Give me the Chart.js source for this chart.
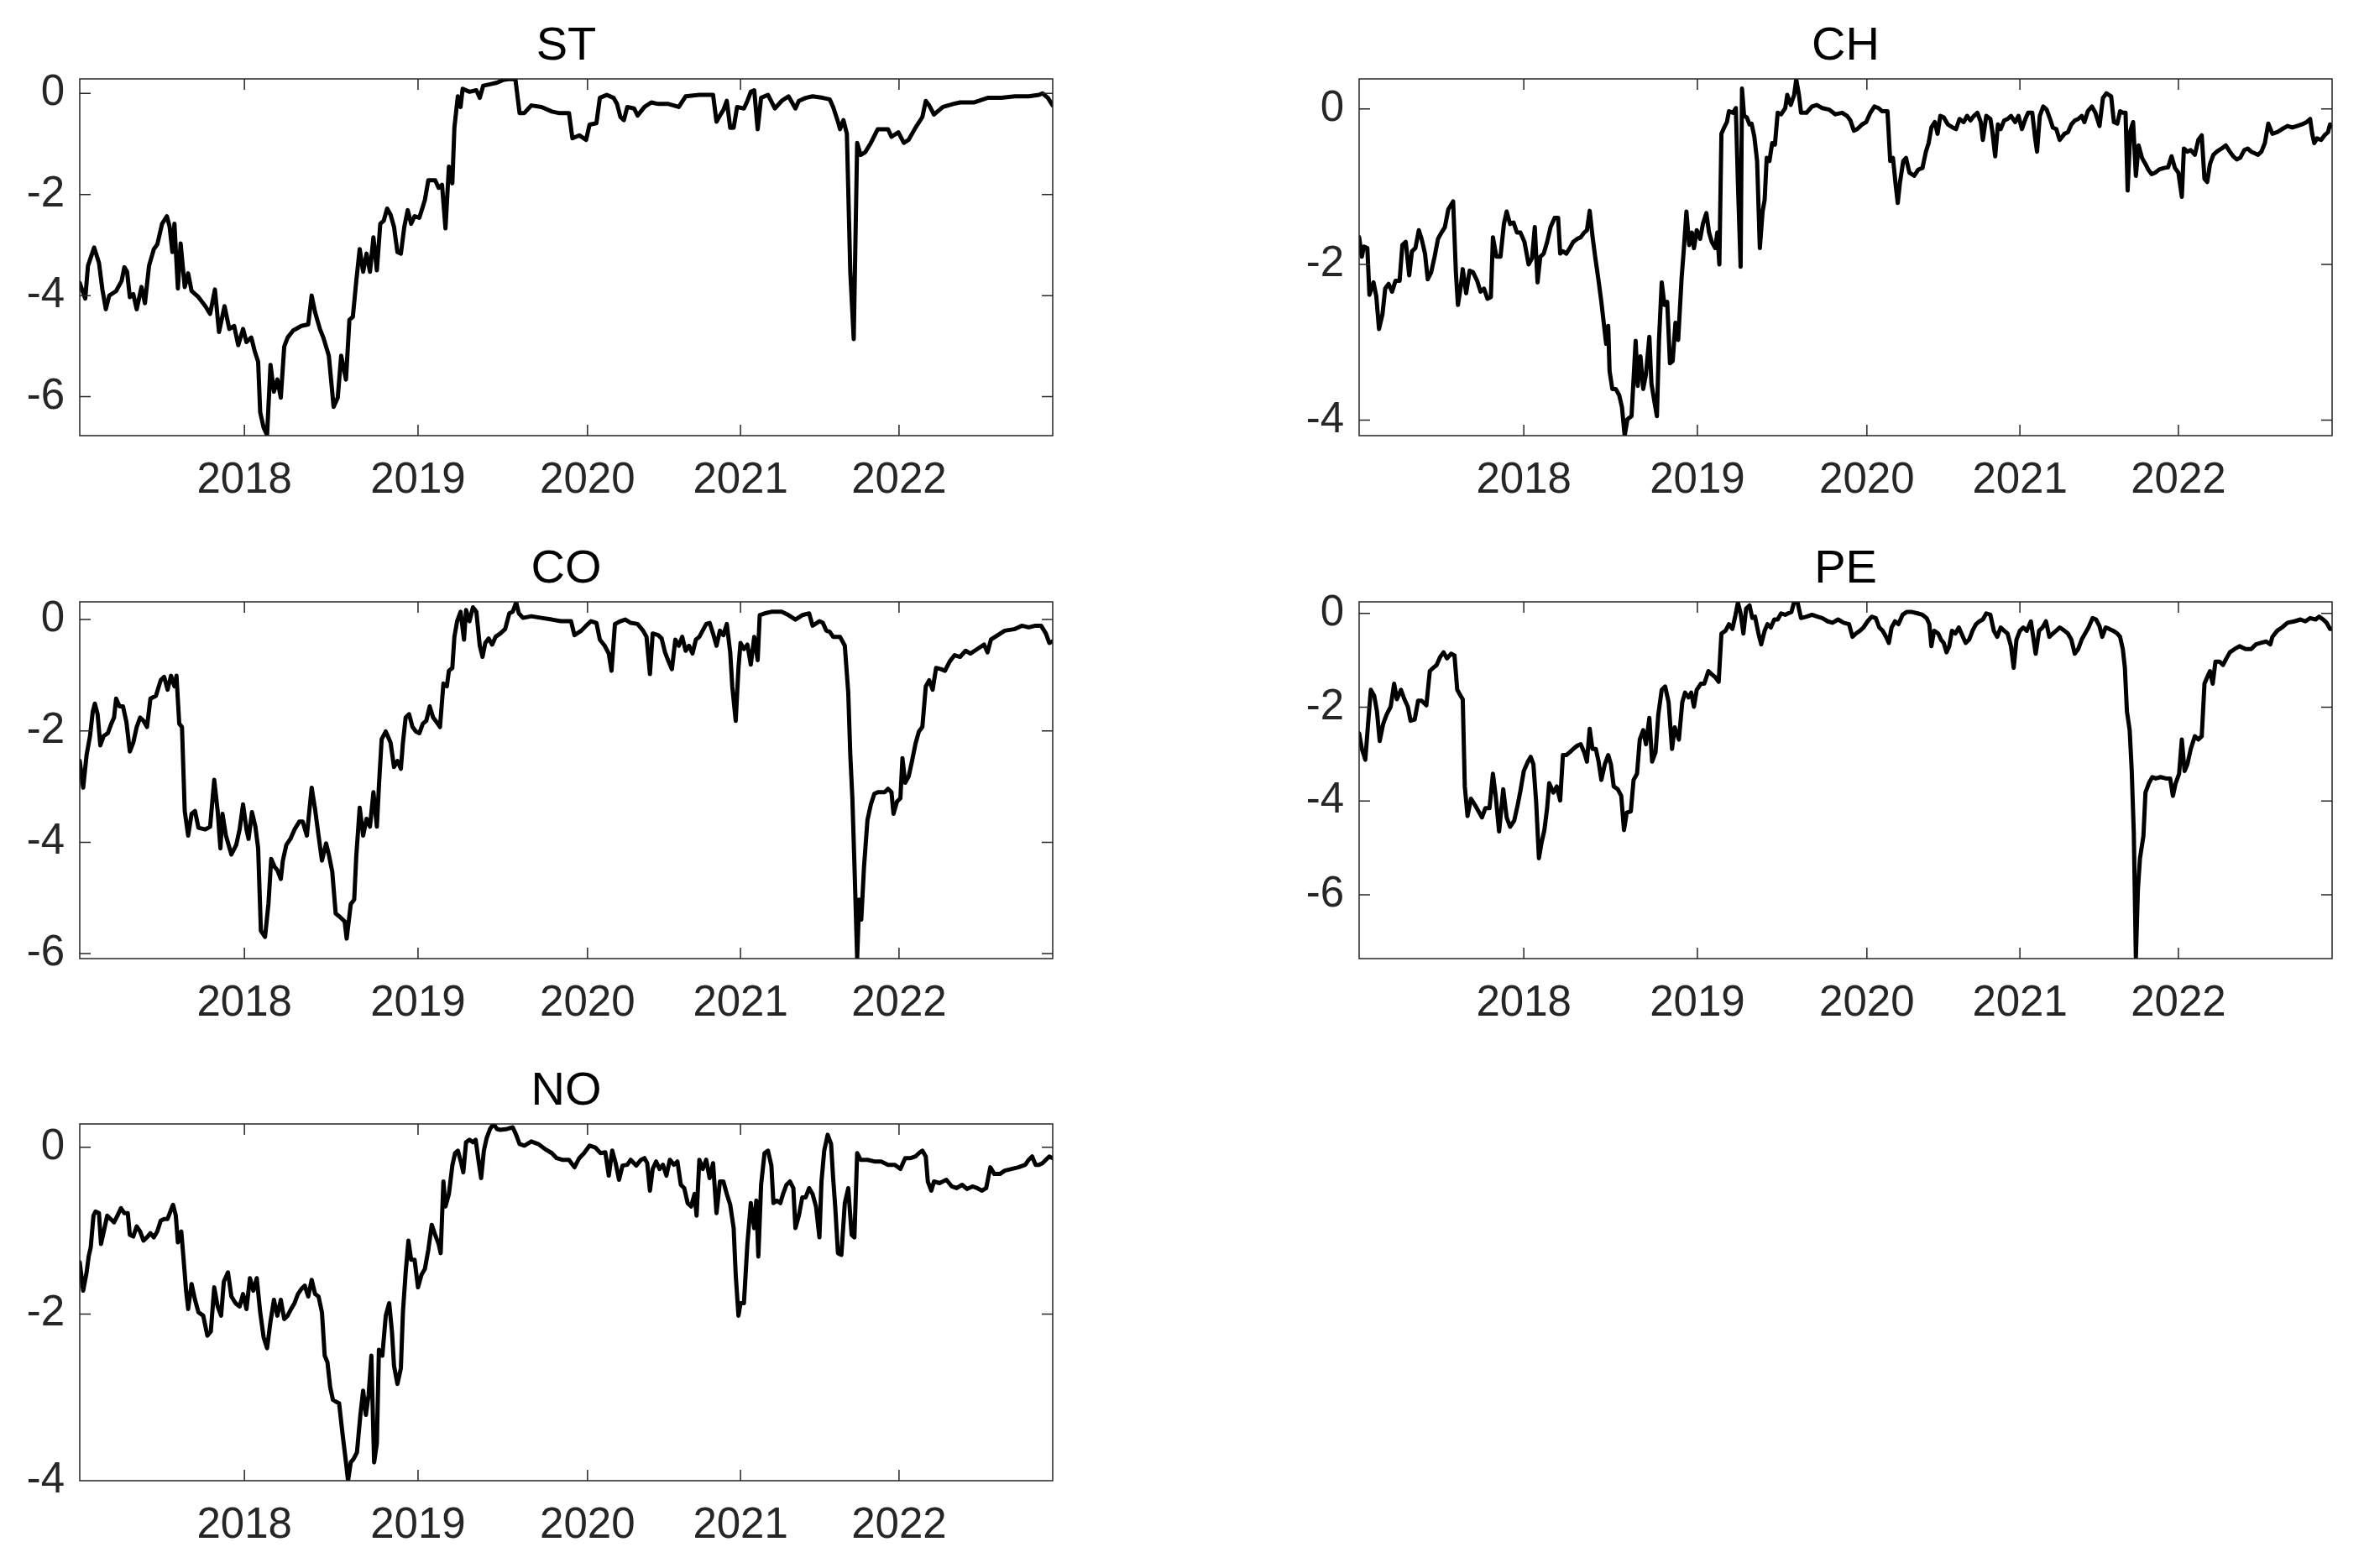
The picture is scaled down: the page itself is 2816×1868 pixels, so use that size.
<!DOCTYPE html>
<html>
<head>
<meta charset="utf-8">
<script src="https://cdn.jsdelivr.net/npm/chart.js@4.4.1/dist/chart.umd.min.js"></script>
<style>
  html, body { margin: 0; padding: 0; background: #fff; }
  #page { position: relative; width: 2816px; height: 1868px; overflow: hidden; background: #fff; }
  #page canvas { position: absolute; }
</style>
</head>
<body>
<div id="page"></div>
<script>
// x axis is the observation (trading day) index, years are marked where they start
const yearObs = [240, 493, 740, 963, 1194];
const yearLabels = ['2018', '2019', '2020', '2021', '2022'];
const obsMax = 1418;

const panelNames = ['ST', 'CH', 'CO', 'PE', 'NO'];
const yMin = [-6.77, -4.2, -6.09, -7.36, -4.0];
const yMax = [0.285, 0.385, 0.318, 0.246, 0.28];
const yTickSets = [[-6, -4, -2, 0], [-4, -2, 0], [-6, -4, -2, 0], [-6, -4, -2, 0], [-4, -2, 0]];

const stObs = [0,8,12,21,28,33,38,43,53,61, 65,69,73,78,83,90,95,101,108,113, 120,127,131,135,138,143,147,153,158,163,
  173,183,190,197,203,211,218,225,231,238, 243,250,255,260,263,268,273,278,283,288, 293,298,303,311,323,333,338,343,350,355,
  363,370,376,381,388,393,398,403,408,413, 418,423,428,433,438,443,448,453,458,463, 468,473,478,483,488,495,503,508,518,523,
  528,533,538,543,546,551,555,558,568,578, 583,588,598,608,618,628,635,641,648,658, 673,688,698,713,718,728,738,743,753,758,
  768,778,783,788,793,798,808,813,823,833, 843,858,873,883,903,923,928,933,938,943, 948,953,958,968,973,978,983,988,993,998,
  1003,1013,1023,1033,1043,1048,1058,1068,1083,1093, 1098,1105,1108,1113,1118,1123,1128,1133,1138,1145,
  1153,1163,1178,1183,1193,1201,1208,1218,1228,1233, 1238,1245,1258,1273,1283,1303,1323,1343,1363,1383, 1398,1403,1411,1418];
const stVals = [-3.75,-4.06,-3.41,-3.05,-3.35,-3.88,-4.27,-4.00,-3.91,-3.71, -3.44,-3.53,-4.03,-3.97,-4.27,-3.83,-4.15,-3.41,-3.08,-2.99,
  -2.58,-2.43,-2.64,-3.14,-2.58,-3.86,-2.97,-3.83,-3.56,-3.91, -4.03,-4.21,-4.36,-3.88,-4.72,-4.21,-4.66,-4.60,-4.98,-4.66,
  -4.92,-4.83,-5.10,-5.31,-6.31,-6.61,-6.76,-5.37,-5.90,-5.66, -6.02,-5.01,-4.83,-4.69,-4.60,-4.57,-4.00,-4.33,-4.66,-4.83,
  -5.19,-6.20,-6.02,-5.19,-5.66,-4.48,-4.42,-3.71,-3.08,-3.53, -3.17,-3.53,-2.85,-3.50,-2.58,-2.52,-2.28,-2.40,-2.64,-3.14,
  -3.17,-2.64,-2.31,-2.58,-2.43,-2.46,-2.11,-1.72,-1.72,-1.87, -1.81,-2.67,-1.45,-1.78,-0.68,-0.06,-0.27,0.09,0.03,0.06,
  -0.09,0.15,0.18,0.21,0.27,0.285,0.27,-0.39,-0.39,-0.24, -0.27,-0.36,-0.39,-0.39,-0.89,-0.83,-0.92,-0.62,-0.59,-0.09,
  -0.03,-0.09,-0.21,-0.47,-0.53,-0.27,-0.30,-0.44,-0.27,-0.18, -0.21,-0.21,-0.27,-0.06,-0.03,-0.03,-0.56,-0.44,-0.33,-0.15,
  -0.68,-0.68,-0.27,-0.30,-0.15,0.03,0.06,-0.71,-0.09,-0.06, -0.03,-0.30,-0.15,-0.06,-0.30,-0.15,-0.09,-0.06,-0.09,-0.12,
  -0.27,-0.56,-0.71,-0.53,-0.80,-3.53,-4.86,-0.98,-1.22,-1.16, -0.98,-0.71,-0.71,-0.86,-0.77,-0.98,-0.92,-0.68,-0.47,-0.15,
  -0.24,-0.42,-0.27,-0.21,-0.18,-0.18,-0.09,-0.09,-0.06,-0.06, -0.03,0,-0.09,-0.24];

const chObs = [0,4,7,12,15,21,25,29,34,38, 43,48,53,59,63,68,73,77,82,87, 91,96,100,105,110,115,120,125,130,137,
  141,144,148,151,156,161,166,172,177,182, 187,192,195,200,206,211,215,220,225,230, 235,241,247,252,256,260,264,269,274,279,
  285,290,293,297,302,307,312,318,323,328, 332,336,340,344,349,353,357,360,363,365, 369,374,379,383,387,391,397,403,406,410,
  414,418,423,426,431,434,437,441,445,449, 453,457,461,465,470,473,477,481,485,488, 492,497,501,506,510,514,519,522,525,528,
  532,536,539,545,549,552,556,558,561,565, 569,572,576,580,584,588,591,594,598,602, 606,610,615,621,624,629,634,637,641,644,
  652,660,667,675,685,694,704,711,716,721, 726,733,739,745,751,757,762,770,774,778, 782,785,788,793,797,802,809,815,821,826,
  830,834,839,843,847,852,858,865,870,875, 881,886,891,896,901,906,909,914,920,923, 927,931,935,940,945,950,956,961,966,971,
  975,981,985,988,992,997,1002,1007,1011,1016, 1021,1028,1033,1038,1043,1048,1053,1057,1062,1068,
  1073,1079,1084,1089,1096,1100,1105,1109,1113,1117, 1120,1124,1128,1132,1136,1141,1146,1150,1155,1160,
  1166,1173,1179,1184,1189,1194,1199,1202,1207,1212, 1218,1223,1228,1232,1236,1240,1245,1250,1257,1263,
  1269,1274,1279,1284,1290,1295,1300,1305,1310,1315, 1320,1325,1331,1338,1345,1353,1360,1367,1374,1381,
  1386,1389,1392,1396,1402,1407,1412,1415,1418];
const chVals = [-1.65,-1.90,-1.77,-1.79,-2.39,-2.23,-2.41,-2.83,-2.64,-2.31, -2.25,-2.35,-2.21,-2.21,-1.75,-1.71,-2.14,-1.83,-1.79,-1.56,
  -1.67,-1.86,-2.19,-2.10,-1.90,-1.67,-1.59,-1.52,-1.29,-1.19, -2.10,-2.52,-2.29,-2.06,-2.37,-2.08,-2.10,-2.21,-2.35,-2.31,
  -2.44,-2.42,-1.65,-1.90,-1.90,-1.48,-1.32,-1.48,-1.46,-1.59, -1.59,-1.71,-2.00,-1.92,-1.52,-2.23,-1.90,-1.86,-1.71,-1.52,
  -1.40,-1.40,-1.86,-1.83,-1.86,-1.79,-1.71,-1.67,-1.65,-1.59, -1.56,-1.31,-1.63,-1.90,-2.21,-2.48,-2.79,-3.02,-2.79,-3.37,
  -3.60,-3.60,-3.68,-3.83,-4.20,-3.99,-3.95,-2.98,-3.56,-3.18, -3.60,-3.41,-2.93,-3.53,-3.80,-3.95,-2.98,-2.23,-2.52,-2.48,
  -3.27,-3.24,-2.75,-2.97,-2.17,-1.83,-1.32,-1.75,-1.59,-1.79, -1.56,-1.67,-1.48,-1.34,-1.59,-1.71,-1.79,-1.59,-2.00,-0.32,
  -0.24,-0.17,-0.03,-0.05,0.01,-0.94,-2.03,0.26,-0.09,-0.11, -0.20,-0.19,-0.36,-0.67,-1.79,-1.32,-1.17,-0.63,-0.67,-0.44,
  -0.46,-0.05,-0.07,0.01,0.18,0.05,0.18,0.38,0.18,-0.05, -0.05,0.03,0.05,0.01,-0.01,-0.07,-0.05,-0.09,-0.15,-0.28,
  -0.26,-0.20,-0.17,-0.05,0.03,0.01,-0.03,-0.03,-0.67,-0.63, -0.98,-1.21,-0.96,-0.67,-0.63,-0.82,-0.86,-0.78,-0.76,-0.55,
  -0.44,-0.24,-0.17,-0.32,-0.09,-0.11,-0.20,-0.24,-0.26,-0.13, -0.17,-0.09,-0.15,-0.09,-0.05,-0.17,-0.40,-0.09,-0.13,-0.30,
  -0.61,-0.20,-0.26,-0.15,-0.13,-0.09,-0.17,-0.09,-0.26,-0.13, -0.05,-0.05,-0.36,-0.55,-0.09,0.03,-0.01,-0.13,-0.24,-0.26,
  -0.40,-0.32,-0.30,-0.20,-0.15,-0.13,-0.09,-0.17,-0.03,0.03, -0.05,-0.22,0.14,0.20,0.16,-0.17,-0.19,-0.03,-0.05,-0.05,
  -1.05,-0.28,-0.17,-0.86,-0.47,-0.63,-0.71,-0.78,-0.84,-0.82, -0.78,-0.76,-0.75,-0.61,-0.76,-0.82,-1.13,-0.51,-0.55,-0.53,
  -0.59,-0.40,-0.34,-0.90,-0.94,-0.71,-0.59,-0.55,-0.51,-0.47, -0.55,-0.61,-0.65,-0.63,-0.53,-0.51,-0.55,-0.57,-0.59,-0.55,
  -0.44,-0.19,-0.32,-0.30,-0.26,-0.22,-0.24,-0.22,-0.20,-0.17, -0.13,-0.32,-0.44,-0.38,-0.40,-0.34,-0.30,-0.20,-0.22];

const coObs = [0,5,10,15,19,22,26,30,35,41, 46,50,53,58,63,68,73,78,83,88, 93,98,103,111,118,123,128,133,138,141,
  145,149,153,158,163,168,173,183,190,196, 201,205,208,213,221,228,233,238,243,246, 251,256,260,264,270,275,279,284,288,293,
  296,301,307,313,320,325,331,338,343,348, 353,359,363,368,373,379,386,389,395,400, 403,408,413,418,423,428,433,436,440,446,
  453,458,463,468,471,475,480,485,490,495, 500,505,510,515,520,525,530,535,538,543, 546,550,555,560,563,568,573,578,583,587,
  591,596,601,606,613,620,626,631,636,640, 646,658,673,688,701,716,721,731,738,745, 753,758,765,771,775,780,788,795,803,813,
  821,826,831,835,843,848,853,858,863,868, 873,878,883,888,893,898,903,913,918,923, 928,933,938,943,948,951,956,960,963,968,
  973,978,983,988,991,998,1008,1023,1033,1043, 1053,1063,1068,1078,1083,1088,1093,1098,1108,1115,
  1120,1123,1126,1129,1133,1136,1139,1143,1148,1153, 1158,1163,1173,1178,1183,1186,1191,1196,1199,1203,
  1208,1213,1218,1223,1228,1233,1238,1243,1248,1255, 1261,1268,1275,1283,1291,1298,1308,1318,1323,1328,
  1338,1348,1363,1373,1383,1393,1401,1408,1413,1418];
const coVals = [-2.54,-3.02,-2.43,-2.09,-1.65,-1.51,-1.70,-2.26,-2.09,-2.04, -1.87,-1.76,-1.42,-1.56,-1.56,-1.84,-2.37,-2.21,-1.93,-1.76,
  -1.82,-1.93,-1.42,-1.37,-1.09,-1.03,-1.26,-1.01,-1.20,-1.01, -1.87,-1.93,-3.44,-3.88,-3.49,-3.44,-3.74,-3.77,-3.72,-2.88,
  -3.44,-4.11,-3.49,-3.88,-4.22,-4.05,-3.77,-3.32,-3.77,-3.94, -3.46,-3.72,-4.11,-5.59,-5.70,-5.11,-4.30,-4.44,-4.50,-4.66,
  -4.33,-4.05,-3.94,-3.77,-3.63,-3.63,-3.88,-3.02,-3.41,-3.88, -4.33,-4.02,-4.22,-4.53,-5.28,-5.34,-5.42,-5.73,-5.11,-5.03,
  -4.25,-3.38,-3.88,-3.58,-3.72,-3.10,-3.72,-2.99,-2.15,-2.01, -2.21,-2.65,-2.54,-2.68,-2.21,-1.76,-1.70,-1.93,-2.01,-2.04,
  -1.87,-1.82,-1.56,-1.76,-1.84,-1.93,-1.15,-1.20,-0.92,-0.87, -0.31,-0.03,0.14,-0.36,0.17,-0.03,0.22,0.14,-0.47,-0.67,
  -0.42,-0.34,-0.45,-0.31,-0.25,-0.17,0.11,0.14,0.31,0.11, 0.03,0.06,0.03,0.00,-0.03,-0.03,-0.28,-0.20,-0.11,-0.03,
  -0.06,-0.36,-0.47,-0.61,-0.92,-0.08,-0.03,0.00,-0.06,-0.08, -0.20,-0.31,-0.98,-0.25,-0.28,-0.34,-0.59,-0.75,-0.89,-0.36,
  -0.47,-0.31,-0.56,-0.47,-0.61,-0.36,-0.31,-0.08,-0.06,-0.25, -0.47,-0.20,-0.28,-0.08,-0.59,-1.20,-1.82,-0.87,-0.42,-0.53,
  -0.45,-0.81,-0.31,-0.73,0.08,0.11,0.14,0.14,0.08,0.00, 0.08,0.11,-0.11,-0.03,-0.06,-0.20,-0.22,-0.31,-0.31,-0.47,
  -1.31,-2.43,-3.21,-4.39,-6.09,-5.03,-5.39,-4.44,-3.60,-3.32, -3.13,-3.10,-3.10,-3.04,-3.10,-3.49,-3.27,-3.21,-2.49,-2.93,
  -2.82,-2.54,-2.23,-2.01,-1.93,-1.20,-1.09,-1.26,-0.87,-0.89, -0.92,-0.75,-0.64,-0.67,-0.56,-0.61,-0.53,-0.45,-0.59,-0.36,
  -0.28,-0.20,-0.17,-0.11,-0.14,-0.11,-0.11,-0.25,-0.42,-0.39];

const peObs = [0,4,9,13,17,22,26,30,35,40, 46,51,55,61,66,71,75,81,86,91, 98,103,108,113,118,123,128,134,139,143,
  148,151,154,158,163,169,174,179,184,190, 195,199,204,210,215,220,226,231,235,240, 246,250,254,258,262,266,270,274,277,283,
  288,293,297,302,307,312,318,323,328,332, 336,340,345,349,353,358,363,367,371,377, 382,386,390,396,400,405,409,414,418,423,
  427,432,436,441,446,451,456,460,466,471, 475,480,484,488,492,498,503,509,514,519, 524,528,534,539,544,548,552,556,560,564,
  569,573,577,582,586,591,595,600,605,610, 615,621,625,630,634,639,644,652,660,668, 675,683,690,698,706,714,719,724,730,735,
  741,747,753,758,763,768,772,776,781,786, 792,798,806,814,821,827,831,834,838,844, 848,852,856,860,864,869,874,880,884,889,
  894,899,904,909,914,920,925,930,935,940, 945,950,954,958,963,968,973,979,983,986, 991,996,1001,1006,1011,1016,1021,1028,1033,1038,
  1043,1048,1053,1058,1063,1069,1074,1079,1083,1088, 1093,1099,1105,1109,1113,1116,1119,1123,1126,1129,
  1132,1135,1138,1143,1146,1151,1156,1161,1168,1176, 1182,1186,1190,1195,1199,1203,1207,1212,1218,1223,
  1228,1232,1236,1240,1244,1248,1254,1259,1264,1269, 1276,1283,1292,1300,1307,1314,1322,1328,1331,1338,
  1345,1353,1363,1372,1379,1386,1394,1399,1405,1410, 1415,1418];
const peVals = [-2.56,-2.89,-3.12,-2.36,-1.63,-1.76,-2.09,-2.72,-2.36,-2.16, -1.99,-1.50,-1.83,-1.63,-1.83,-1.99,-2.29,-2.26,-1.86,-1.86,
  -1.96,-1.23,-1.16,-1.10,-0.93,-0.83,-0.96,-0.86,-0.90,-1.63, -1.76,-1.83,-3.69,-4.32,-3.95,-4.09,-4.22,-4.35,-4.15,-4.15,
  -3.42,-3.89,-4.65,-3.75,-4.35,-4.55,-4.42,-4.09,-3.79,-3.36, -3.16,-3.06,-3.22,-4.02,-5.22,-4.88,-4.62,-4.15,-3.62,-3.82,
  -3.69,-3.99,-3.02,-3.02,-2.96,-2.89,-2.82,-2.79,-2.96,-3.16, -2.46,-2.89,-2.89,-3.16,-3.55,-3.22,-3.02,-3.22,-3.69,-3.75,
  -3.89,-4.62,-4.25,-4.22,-3.55,-3.42,-2.69,-2.49,-2.79,-2.23, -3.16,-2.96,-2.16,-1.63,-1.56,-1.89,-2.89,-2.43,-2.69,-1.89,
  -1.69,-1.79,-1.69,-1.99,-1.63,-1.50,-1.50,-1.23,-1.30,-1.36, -1.46,-0.43,-0.37,-0.23,-0.33,-0.07,0.23,0.00,-0.43,0.10,
  0.17,-0.10,-0.07,-0.43,-0.66,-0.37,-0.23,-0.30,-0.13,-0.13, 0.00,-0.03,0.00,0.03,0.245,0.23,-0.10,-0.07,-0.03,-0.07,
  -0.10,-0.17,-0.20,-0.13,-0.20,-0.23,-0.50,-0.43,-0.37,-0.30, -0.17,-0.07,-0.10,-0.30,-0.37,-0.50,-0.63,-0.30,-0.17,-0.23,
  -0.03,0.03,0.03,0.00,-0.03,-0.10,-0.23,-0.70,-0.37,-0.43, -0.56,-0.63,-0.83,-0.70,-0.37,-0.43,-0.30,-0.50,-0.63,-0.56,
  -0.37,-0.23,-0.17,-0.13,0.00,-0.03,-0.37,-0.50,-0.30,-0.37, -0.43,-0.70,-1.16,-0.56,-0.37,-0.30,-0.37,-0.17,-0.56,-0.86,
  -0.37,-0.30,-0.17,-0.50,-0.43,-0.37,-0.30,-0.37,-0.43,-0.56, -0.86,-0.76,-0.56,-0.43,-0.30,-0.10,-0.13,-0.27,-0.50,-0.30,
  -0.33,-0.37,-0.43,-0.50,-0.76,-1.16,-2.09,-2.49,-3.36,-4.68, -7.34,-5.88,-5.22,-4.75,-3.82,-3.62,-3.49,-3.52,-3.49,-3.52,
  -3.52,-3.89,-3.62,-3.42,-2.69,-3.36,-3.22,-2.89,-2.62,-2.69, -2.62,-1.50,-1.36,-1.23,-1.50,-1.03,-1.03,-1.10,-0.96,-0.83,
  -0.76,-0.70,-0.76,-0.76,-0.66,-0.63,-0.60,-0.66,-0.50,-0.37, -0.30,-0.20,-0.17,-0.13,-0.17,-0.10,-0.13,-0.07,-0.13,-0.20,
  -0.33,-0.33];

const noObs = [0,5,10,13,16,20,23,28,31,35, 40,45,50,55,60,65,70,73,78,83, 88,93,98,103,108,113,118,123,128,133,
  136,140,143,148,151,155,158,163,168,173, 180,186,191,196,201,206,210,216,221,227, 233,238,243,248,253,258,263,268,273,278,
  283,288,293,298,303,308,313,318,323,328, 333,338,343,348,353,357,361,365,369,373, 378,383,388,391,395,399,404,409,413,417,
  421,425,429,433,436,441,446,451,455,458, 463,468,471,475,479,483,488,493,498,503, 508,513,518,523,526,530,533,538,543,547,
  551,556,559,563,568,573,577,581,585,589, 593,598,603,608,613,623,631,636,641,648, 658,668,678,688,695,703,713,721,728,735,
  743,751,759,766,771,776,781,786,791,798, 803,811,818,823,827,831,835,840,845,850, 855,860,866,871,876,881,886,891,896,899,
  903,908,913,918,923,928,933,938,943,948, 953,956,960,963,968,973,978,983,986,989, 993,998,1003,1008,1011,1016,1021,1025,1030,1035,
  1040,1043,1048,1053,1058,1063,1068,1073,1078,1081, 1085,1090,1095,1098,1101,1105,1110,1115,1120,1125,
  1129,1133,1138,1148,1158,1168,1178,1188,1196,1203, 1211,1218,1223,1228,1233,1236,1241,1245,1253,1263,
  1271,1278,1286,1293,1301,1308,1315,1321,1327,1333, 1341,1348,1358,1368,1378,1383,1388,1393,1398,1403, 1408,1413,1418];
const noVals = [-1.38,-1.72,-1.50,-1.31,-1.20,-0.82,-0.77,-0.79,-1.16,-1.01, -0.82,-0.86,-0.90,-0.82,-0.73,-0.79,-0.79,-1.05,-1.07,-0.95,
  -1.01,-1.12,-1.08,-1.03,-1.08,-1.01,-0.88,-0.86,-0.86,-0.75, -0.69,-0.82,-1.14,-1.01,-1.31,-1.72,-1.94,-1.64,-1.83,-1.98,
  -2.02,-2.26,-2.21,-1.68,-1.91,-2.02,-1.61,-1.50,-1.79,-1.87, -1.91,-1.76,-1.94,-1.57,-1.72,-1.57,-1.98,-2.28,-2.41,-2.09,
  -1.83,-2.02,-1.83,-2.06,-2.02,-1.94,-1.87,-1.76,-1.70,-1.66, -1.79,-1.59,-1.76,-1.79,-1.98,-2.50,-2.58,-2.88,-3.03,-3.05,
  -3.07,-3.44,-3.78,-4.00,-3.78,-3.74,-3.66,-3.21,-2.92,-3.21, -2.97,-2.50,-3.78,-3.55,-2.43,-2.50,-2.02,-1.87,-2.21,-2.62,
  -2.84,-2.65,-1.98,-1.50,-1.12,-1.35,-1.35,-1.68,-1.53,-1.46, -1.23,-0.93,-1.05,-1.16,-1.27,-0.41,-0.71,-0.56,-0.22,-0.07,
  -0.04,-0.19,-0.30,0.06,0.09,0.06,0.09,-0.15,-0.37,-0.04, 0.11,0.22,0.28,0.22,0.21,0.22,0.24,0.15,0.04,0.02,
  0.07,0.04,-0.02,-0.07,-0.13,-0.15,-0.15,-0.24,-0.13,-0.07, 0.02,0.00,-0.07,-0.06,-0.34,-0.04,-0.19,-0.39,-0.22,-0.21,
  -0.15,-0.22,-0.15,-0.13,-0.19,-0.52,-0.26,-0.17,-0.26,-0.21, -0.34,-0.15,-0.21,-0.17,-0.45,-0.49,-0.67,-0.71,-0.56,-0.82,
  -0.15,-0.26,-0.15,-0.37,-0.19,-0.79,-0.41,-0.41,-0.56,-0.69, -0.97,-1.53,-2.02,-1.87,-1.87,-1.16,-0.67,-0.97,-0.64,-1.31,
  -0.45,-0.07,-0.04,-0.22,-0.67,-0.64,-0.67,-0.56,-0.45,-0.41, -0.49,-0.97,-0.82,-0.60,-0.60,-0.49,-0.56,-0.71,-1.08,-0.41,
  -0.04,0.15,0.04,-0.37,-0.71,-1.27,-1.29,-0.67,-0.49,-1.05, -1.08,-0.07,-0.15,-0.15,-0.17,-0.17,-0.21,-0.21,-0.26,-0.13,
  -0.13,-0.11,-0.07,-0.04,-0.11,-0.41,-0.52,-0.41,-0.43,-0.39, -0.47,-0.49,-0.45,-0.50,-0.47,-0.49,-0.52,-0.49,-0.24,-0.32,
  -0.32,-0.28,-0.26,-0.24,-0.21,-0.15,-0.11,-0.21,-0.21,-0.19, -0.15,-0.11,-0.13];

const seriesObs = [stObs, chObs, coObs, peObs, noObs];
const seriesVals = [stVals, chVals, coVals, peVals, noVals];

// canvas placement: each canvas holds 95px of y labels, 94px of title above the box
const canvasPos = [[0, 0], [1524, 0], [0, 623], [1524, 623], [0, 1245]];
const canvasW = 1294, canvasH = 619;
const axisColor = '#262626';
const tickLen = 13;

Chart.defaults.font.family = '"Liberation Sans", Arial, Helvetica, sans-serif';
Chart.defaults.color = axisColor;

// MATLAB style box with inward ticks on all four sides
const matlabBox = {
  id: 'matlabBox',
  afterDraw(chart) {
    const { ctx, chartArea: a, scales: { x, y } } = chart;
    ctx.save();
    ctx.strokeStyle = axisColor;
    ctx.lineWidth = 1.5;
    ctx.beginPath();
    x.ticks.forEach(t => {
      const px = x.getPixelForValue(t.value);
      ctx.moveTo(px, a.bottom); ctx.lineTo(px, a.bottom - tickLen);
      ctx.moveTo(px, a.top); ctx.lineTo(px, a.top + tickLen);
    });
    y.ticks.forEach(t => {
      const py = y.getPixelForValue(t.value);
      ctx.moveTo(a.left, py); ctx.lineTo(a.left + tickLen, py);
      ctx.moveTo(a.right, py); ctx.lineTo(a.right - tickLen, py);
    });
    ctx.rect(a.left, a.top, a.right - a.left, a.bottom - a.top);
    ctx.stroke();
    ctx.restore();
  }
};

function makePanel(i) {
  const cv = document.createElement('canvas');
  cv.width = canvasW;
  cv.height = canvasH;
  cv.style.left = canvasPos[i][0] + 'px';
  cv.style.top = canvasPos[i][1] + 'px';
  cv.style.width = canvasW + 'px';
  cv.style.height = canvasH + 'px';
  document.getElementById('page').appendChild(cv);

  const obs = seriesObs[i], vals = seriesVals[i];
  const points = obs.map((t, k) => ({ x: t, y: vals[k] }));

  new Chart(cv.getContext('2d'), {
    type: 'line',
    data: {
      datasets: [{
        data: points,
        borderColor: '#000',
        borderWidth: 5,
        borderJoinStyle: 'round',
        borderCapStyle: 'round',
        pointRadius: 0,
        tension: 0,
        fill: false,
        clip: 0
      }]
    },
    options: {
      responsive: false,
      animation: false,
      devicePixelRatio: 1,
      layout: { padding: { left: 0, right: 40, top: 0, bottom: 0 } },
      plugins: {
        legend: { display: false },
        tooltip: { enabled: false },
        title: {
          display: true,
          fullSize: false,   // centre the title over the plot box, not the canvas
          text: panelNames[i],
          color: '#000',
          font: { size: 56, weight: 'normal' },
          padding: { top: 22, bottom: 4.8 }
        }
      },
      scales: {
        x: {
          type: 'linear',
          min: 0,
          max: obsMax,
          grid: { display: false, drawTicks: false },
          border: { display: false },
          afterFit(s) { s.height = 100; },
          afterBuildTicks(s) { s.ticks = yearObs.map(v => ({ value: v })); },
          ticks: {
            autoSkip: false,
            maxRotation: 0,
            padding: 23,
            font: { size: 51 },
            color: axisColor,
            callback: v => yearLabels[yearObs.indexOf(v)]
          }
        },
        y: {
          type: 'linear',
          min: yMin[i],
          max: yMax[i],
          grid: { display: false, drawTicks: false },
          border: { display: false },
          afterFit(s) { s.width = 95; },
          afterBuildTicks(s) { s.ticks = yTickSets[i].map(v => ({ value: v })); },
          ticks: {
            autoSkip: false,
            padding: 18,
            font: { size: 51 },
            color: axisColor,
            callback: v => String(v)
          }
        }
      }
    },
    plugins: [matlabBox]
  });
}

document.addEventListener('DOMContentLoaded', () => {
  panelNames.forEach((n, i) => makePanel(i));
});
</script>
</body>
</html>
